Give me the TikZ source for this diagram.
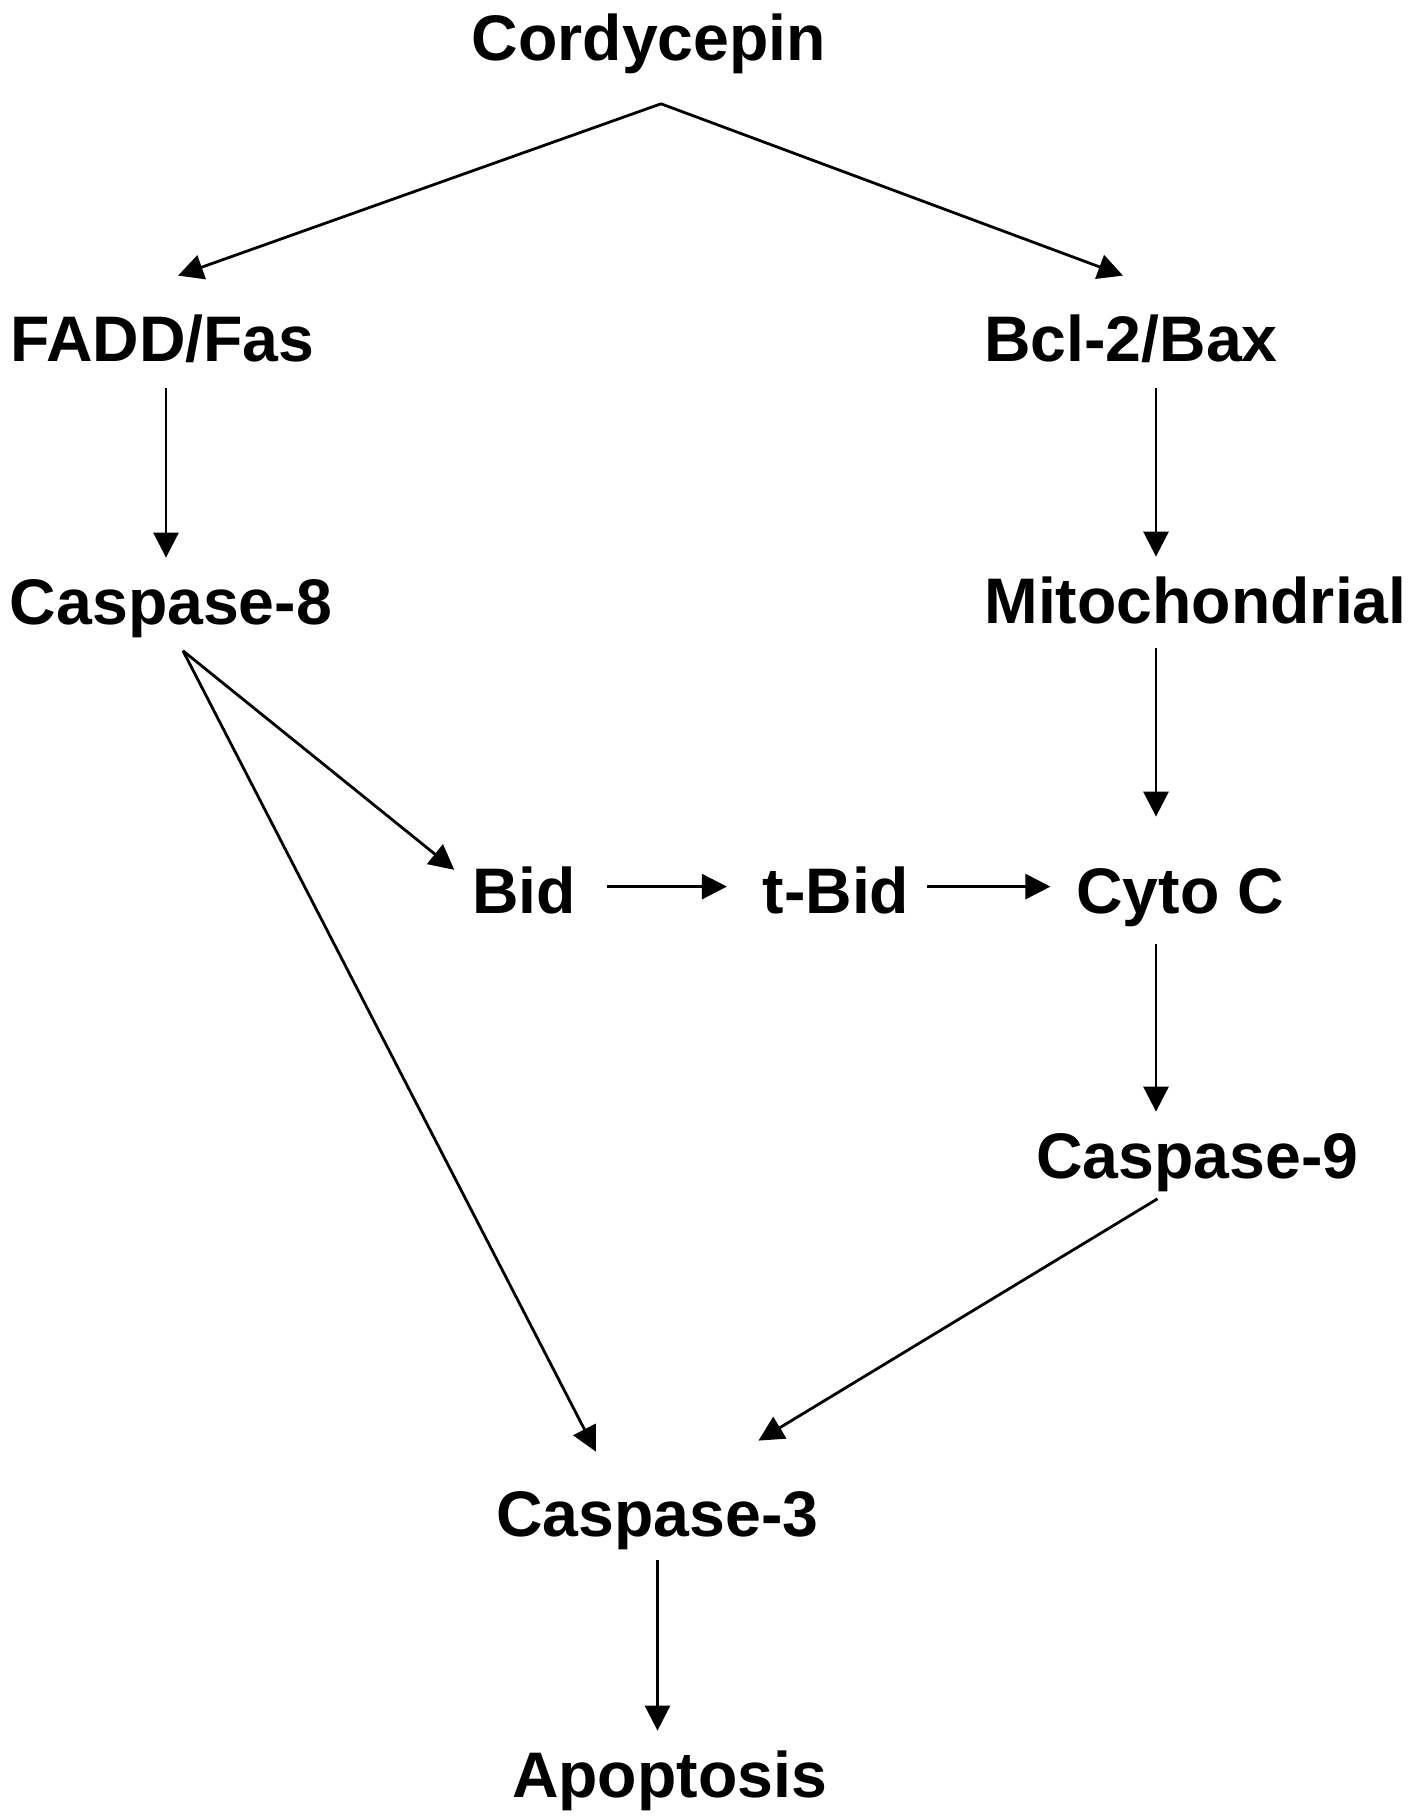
\documentclass[tikz,border=0pt]{standalone}
\usepackage{fontspec}
\setmainfont{Liberation Sans}
\usetikzlibrary{arrows.meta}

\begin{document}
\begin{tikzpicture}[x = 0.25pt, y = -0.25pt,
	lab/.style = {font=\fontsize{16.1pt}{18pt}\selectfont\bfseries, anchor=base, inner xsep=0pt, inner ysep=5pt, text height=11.4pt, text depth=0pt},
	arr/.style = {-{Triangle[length=6.25pt, width=6.25pt]}, line width=0.7pt}]
	\useasboundingbox (0,0) rectangle (1417,1820);
	\node[lab] (cord) at (649,60) {Cordycepin};
	\node[lab] (fadd) at (162.5,361) {FADD/Fas};
	\node[lab] (bcl) at (1131,361) {Bcl-2/Bax};
	\node[lab] (casp8) at (171,624) {Caspase-8};
	\node[lab] (mito) at (1195.5,623) {Mitochondrial};
	\node[lab] (bid) at (524,913) {Bid};
	\node[lab] (tbid) at (836,913) {t-Bid};
	\node[lab] (cyto) at (1180,913) {Cyto C};
	\node[lab] (casp9) at (1197.5,1178) {Caspase-9};
	\node[lab] (casp3) at (657.5,1536) {Caspase-3};
	\node[lab] (apop) at (669.5,1797) {Apoptosis};
	\coordinate (fork) at ([xshift=3pt, yshift=-5.75pt]cord.south);
	\coordinate (split) at ([xshift=3pt, yshift=-1.5pt]casp8.south);
	\coordinate (lcol) at (166,0);
	\coordinate (rcol) at (1156,0);
	\draw[arr] (fork) -- ([xshift=3.9pt, yshift=4.75pt]fadd.north);
	\draw[arr] (fork) -- ([xshift=-2pt, yshift=4.75pt]bcl.north);
	\draw[arr, shorten <=1.5pt] (fadd.south -| lcol) -- (casp8.north -| lcol);
	\draw[arr, shorten <=1.5pt] (bcl.south -| rcol) -- (mito.north -| rcol);
	\draw[arr, shorten <=1pt, shorten >=7.5pt] (mito.south -| rcol) -- (cyto.north -| rcol);
	\draw[arr, shorten <=2.5pt] (cyto.south -| rcol) -- (casp9.north -| rcol);
	\draw[arr] (split) -- ([xshift=-4.25pt, yshift=5.1pt]bid.west);
	\draw[arr] (split) -- ([xshift=-15.4pt, yshift=4.5pt]casp3.north);
	\draw[arr, shorten <=7.5pt, shorten >=8.75pt] ([yshift=0.9pt]bid.east) -- ([yshift=0.9pt]bid.east -| tbid.west);
	\draw[arr, shorten <=4.25pt, shorten >=6.25pt] ([yshift=0.9pt]tbid.east) -- ([yshift=0.9pt]tbid.east -| cyto.west);
	\draw[arr] ([xshift=-10pt]casp9.south) -- ([xshift=25.25pt, yshift=7.25pt]casp3.north);
	\draw[arr, shorten <=0.75pt] (casp3.south) -- (casp3.south |- apop.north);
\end{tikzpicture}
\end{document}
